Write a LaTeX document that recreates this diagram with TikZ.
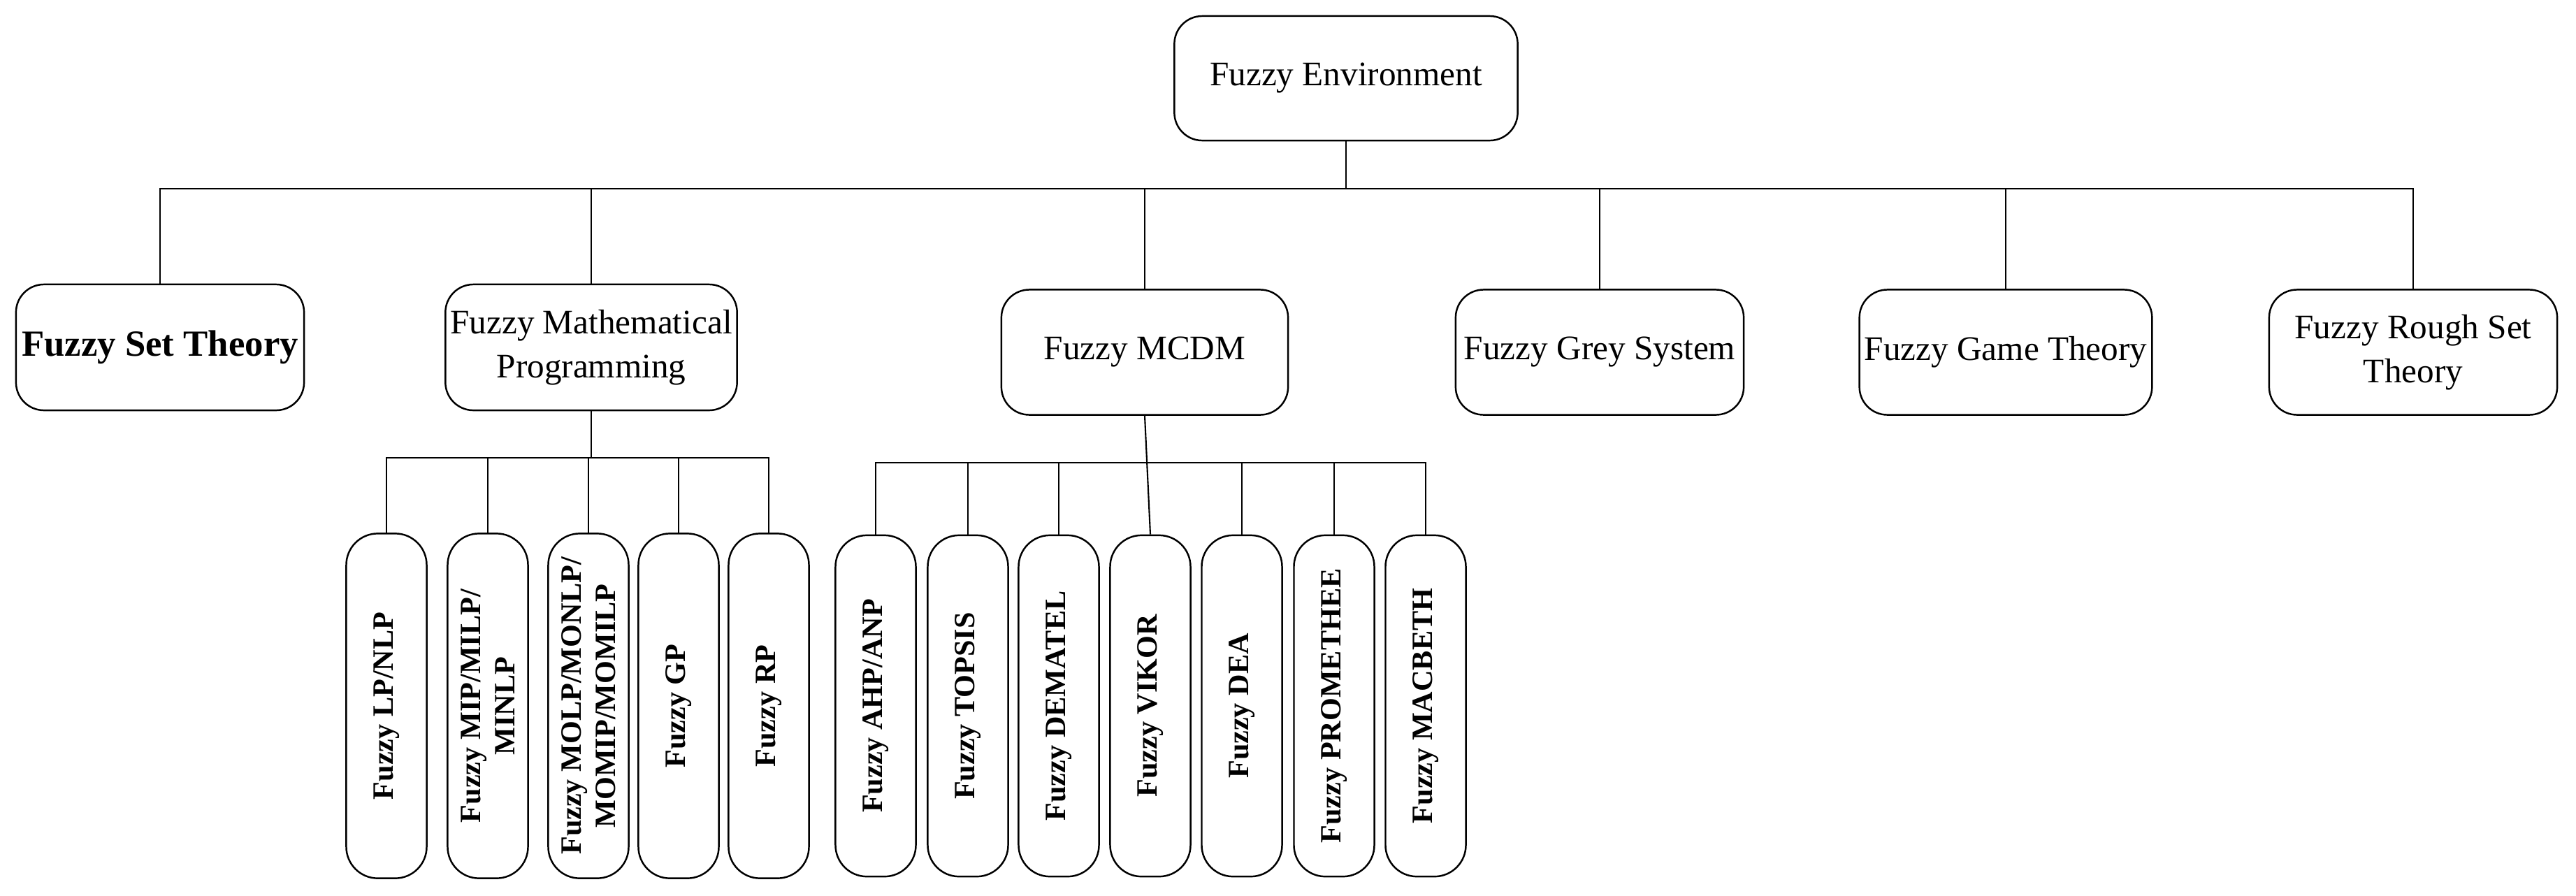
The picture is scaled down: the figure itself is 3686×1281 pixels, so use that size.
\documentclass[tikz,border=0pt]{standalone}
\usepackage{fontspec}
\setmainfont{Liberation Serif}
\begin{document}
\begin{tikzpicture}[x=0.01cm,y=-0.01cm,
  box/.style={draw,line width=0.7pt,rounded corners=0.4cm,align=center,inner sep=2pt,font=\fontsize{14}{18}\selectfont},
  vbox/.style={draw,line width=0.7pt,rounded corners=0.45cm,minimum width=1.15cm,minimum height=4.93cm,inner sep=0pt},
  vt/.style={rotate=90,align=center,font=\bfseries\fontsize{12}{14}\selectfont},
  ln/.style={line width=0.6pt}]
\useasboundingbox (0,0) rectangle (3686,1281);
% root
\node[box,minimum width=4.91cm,minimum height=1.78cm] (root) at (1926,112) {Fuzzy Environment};
% level 1
\node[box,minimum width=4.12cm,minimum height=1.80cm,font=\bfseries\fontsize{15}{18}\selectfont] (fst) at (229,497) {Fuzzy Set Theory};
\node[box,minimum width=4.12cm,minimum height=1.80cm] (fmp) at (846,497) {Fuzzy Mathematical\\Programming};
\node[box,minimum width=4.10cm,minimum height=1.79cm] (mcdm) at (1638,504) {Fuzzy MCDM};
\node[box,minimum width=4.12cm,minimum height=1.79cm] (grey) at (2289,504) {Fuzzy Grey System};
\node[box,minimum width=4.13cm,minimum height=1.79cm] (game) at (2870,504) {Fuzzy Game Theory};
\node[box,minimum width=4.12cm,minimum height=1.79cm] (rough) at (3453,504) {Fuzzy Rough Set\\Theory};
\coordinate (bus) at (1926,270);
\draw[ln] (root.south) -- (bus);
\draw[ln] (fst.north) |- (rough.north |- bus) -- (rough.north);
\foreach \n in {fmp,mcdm,grey,game} \draw[ln] (\n.north) -- (\n.north |- bus);
% FMP children
\foreach \n/\x/\t in {lp/553/{Fuzzy LP/NLP},mip/698/{Fuzzy MIP/MILP/\\MINLP},molp/842/{Fuzzy MOLP/MONLP/\\MOMIP/MOMILP},gp/971/{Fuzzy GP},rp/1100/{Fuzzy RP}}{
  \node[vbox] (\n) at (\x,1010) {};
  \node[vt] (\n t) at (\n) {\t};
}
\coordinate (fbus) at (846,655);
\draw[ln] (fmp.south) -- (fbus);
\draw[ln] (lp.north) |- (rp.north |- fbus) -- (rp.north);
\foreach \n in {mip,molp,gp} \draw[ln] (\n.north) -- (\n.north |- fbus);
% MCDM children
\foreach \n/\x/\t in {ahp/1253/{Fuzzy AHP/ANP},top/1385/{Fuzzy TOPSIS},dem/1515/{Fuzzy DEMATEL},vik/1646/{Fuzzy VIKOR},dea/1777/{Fuzzy DEA},pro/1909/{Fuzzy PROMETHEE},mac/2040/{Fuzzy MACBETH}}{
  \node[vbox,minimum height=4.88cm] (\n) at (\x,1010) {};
  \node[vt] (\n t) at (\n) {\t};
}
\coordinate (mbus) at (1641,662);
\draw[ln] (mcdm.south) -- (vik.north);
\draw[ln] (ahp.north) |- (mac.north |- mbus) -- (mac.north);
\foreach \n in {top,dem,dea,pro} \draw[ln] (\n.north) -- (\n.north |- mbus);
\end{tikzpicture}
\end{document}
